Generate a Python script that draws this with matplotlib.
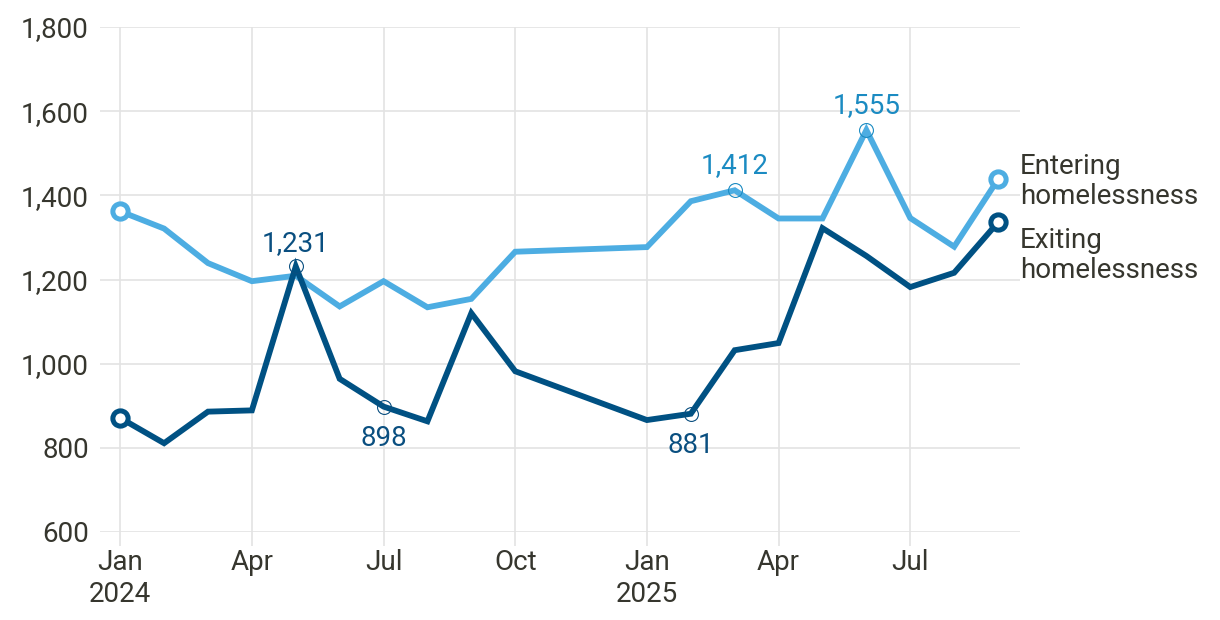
import matplotlib
matplotlib.use("Agg")
import matplotlib.pyplot as plt
import numpy as np

plt.rcParams['font.family'] = ['Roboto', 'DejaVu Sans']

# Month index: 0 = Jan 2024 ... 20 = Sep 2025 (Nov/Dec 2024 missing)
months = [0, 1, 2, 3, 4, 5, 6, 7, 8, 9, 12, 13, 14, 15, 16, 17, 18, 19, 20]
entering = [1362, 1321, 1239, 1196, 1209, 1136, 1196, 1134, 1154, 1266,
            1277, 1386, 1412, 1345, 1345, 1555, 1346, 1278, 1438]
exiting = [871, 811, 886, 889, 1231, 964, 898, 863, 1120, 982,
           866, 881, 1032, 1049, 1322, 1256, 1182, 1216, 1336]

xtick_pos = [0, 3, 6, 9, 12, 15, 18]
xtick_labels = ["Jan\n2024", "Apr", "Jul", "Oct", "Jan\n2025", "Apr", "Jul"]
yticks = [600, 800, 1000, 1200, 1400, 1600, 1800]

# annotated points: (month index, series)
ann_exiting = [4, 6, 13]        # 1,231 / 898 / 881
ann_exiting_pos = ["above", "below", "below"]
ann_entering = [14, 17]         # 1,412 / 1,555

c_light = "#4dade2"
c_dark = "#005183"
c_light_text = "#1b8bc2"
c_dark_text = "#0a4f80"
c_text = "#36362e"
c_grid = "#e3e3e3"
FS = 20

fig = plt.figure(figsize=(12.2, 6.2), dpi=100)
ax = fig.add_axes([100/1220, 1-532/620, 920/1220, 505/620])

ax.plot(months, entering, color=c_light, lw=4.2, solid_joinstyle='miter', zorder=3)
ax.plot(months, exiting, color=c_dark, lw=4.2, solid_joinstyle='miter', zorder=3)

for series, col in [(entering, c_light), (exiting, c_dark)]:
    ax.plot([months[0], months[-1]], [series[0], series[-1]], 'o', ms=11,
            mfc='white', mec=col, mew=3.6, zorder=5)

def fmt(v):
    return f"{v:,}"

for m, pos in zip(ann_exiting, ann_exiting_pos):
    v = exiting[months.index(m)]
    ax.plot(m, v, 'o', ms=10, mfc='none', mec=c_dark_text, mew=0.8, zorder=6)
    off = 7 if pos == "above" else -13
    ax.annotate(fmt(v), (m, v), xytext=(0, off), textcoords='offset points',
                ha='center', va='bottom' if pos == "above" else 'top',
                fontsize=FS, color=c_dark_text, zorder=7)

for m in ann_entering:
    v = entering[months.index(m)]
    ax.plot(m, v, 'o', ms=10, mfc='none', mec=c_light_text, mew=0.8, zorder=6)
    ax.annotate(fmt(v), (m, v), xytext=(0, 8), textcoords='offset points',
                ha='center', va='bottom', fontsize=FS, color=c_light_text, zorder=7)

ax.text(20.5, entering[-1] - 5, "Entering\nhomelessness", ha='left', va='center',
        fontsize=FS, color=c_text, linespacing=1.15)
ax.text(20.5, 1258, "Exiting\nhomelessness", ha='left', va='center',
        fontsize=FS, color=c_text, linespacing=1.15)

ax.set_xlim(-0.46, 20.5)
ax.set_ylim(600, 1800)
ax.set_xticks(xtick_pos)
ax.set_xticklabels(xtick_labels, fontsize=FS, color=c_text, linespacing=1.25)
ax.set_yticks(yticks)
ax.set_yticklabels([fmt(v) for v in yticks], fontsize=FS, color=c_text)
ax.grid(True, color=c_grid, lw=1.2, zorder=0)
ax.set_axisbelow(True)
for s in ax.spines.values():
    s.set_visible(False)
ax.tick_params(axis='x', length=10, color=c_grid, width=1.2, pad=2)
ax.tick_params(axis='y', length=0, pad=8)

fig.savefig("out.png", dpi=100)
